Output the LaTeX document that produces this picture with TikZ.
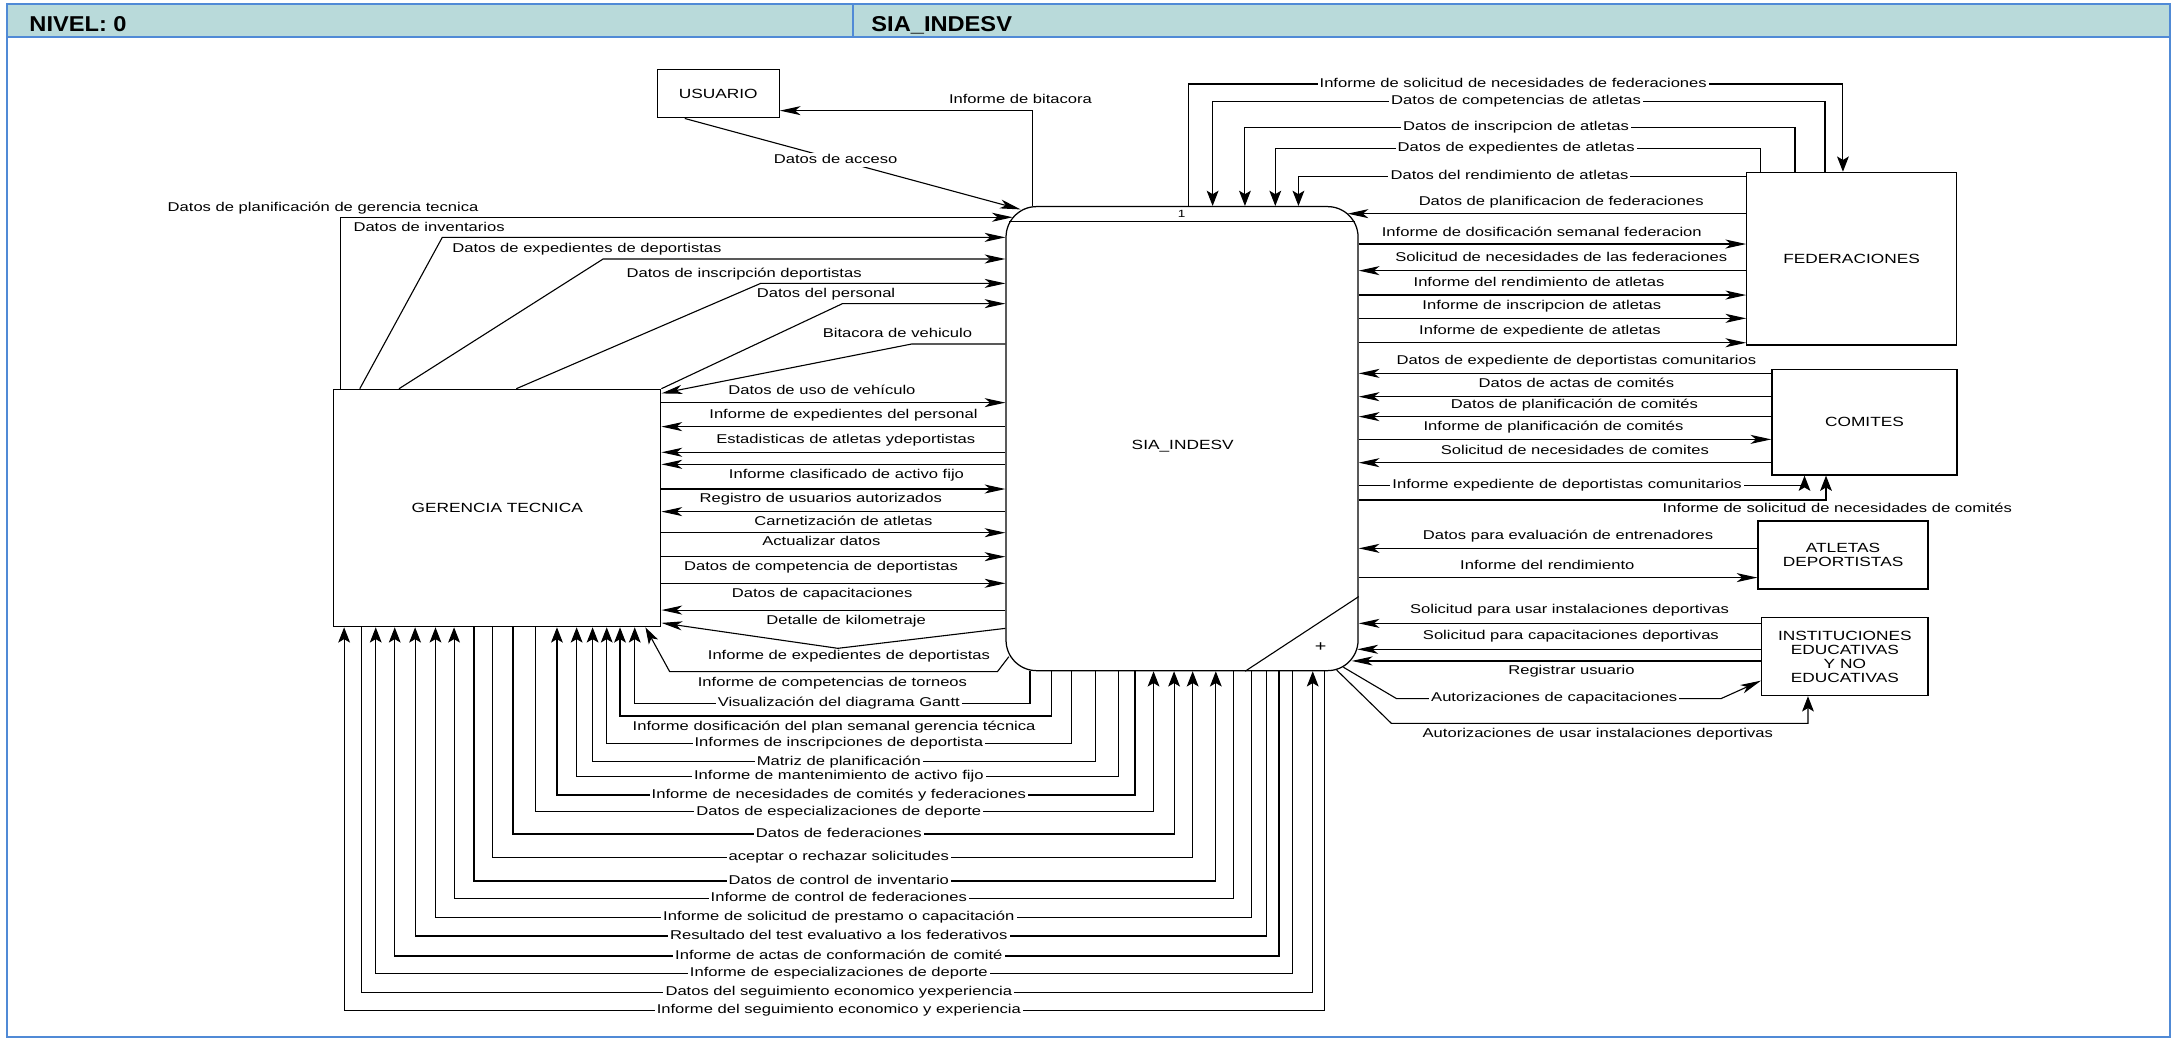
\documentclass[tikz,border=0pt]{standalone}
\usepackage{fontspec}
\setmainfont{Liberation Sans}[FakeStretch=1.3]
\newfontfamily\hdrfont{Liberation Sans}[FakeStretch=1.1]
\usetikzlibrary{arrows.meta,calc}
\definecolor{hdrfill}{RGB}{185,218,218}
\definecolor{hdrblue}{RGB}{80,138,214}
\tikzset{
  ent/.style={draw,line width=0.9pt,inner sep=0pt,align=center,font=\fontsize{9.6}{10.1}\selectfont},
  lbl/.style={inner sep=0pt,text height=6.6pt,text depth=1.9pt,font=\fontsize{9.2}{10.1}\selectfont},
  inl/.style={lbl,fill=white,inner xsep=1.5pt,inner ysep=0.5pt},
  ln/.style={line width=0.8pt},
  fwd/.style={ln,-{Stealth[length=15pt,width=6.5pt,inset=4pt]}},
  bwd/.style={ln,{Stealth[length=15pt,width=6.5pt,inset=4pt]}-},
  vfwd/.style={ln,-{Stealth[length=11pt,width=8.5pt,inset=2.5pt]}},
  vbwd/.style={ln,{Stealth[length=11pt,width=8.5pt,inset=2.5pt]}-},
  dfwd/.style={ln,-{Stealth[length=12pt,width=7.5pt,inset=3pt]}}
}
\begin{document}
\begin{tikzpicture}[x=1pt,y=-1pt]
\useasboundingbox (0,0) rectangle (1568,750);
\fill[hdrfill] (5,3) rectangle (1565,26.5);
\draw[hdrblue,line width=1.2pt] (5,3) rectangle (1565,748);
\draw[hdrblue,line width=1.2pt] (5,26.5) -- (1565,26.5) (615,3) -- (615,26.5);
\node[anchor=base west,font=\hdrfont\bfseries\fontsize{15.5}{16}\selectfont] (nivel) at (17.7,22.8) {NIVEL: 0};
\node[anchor=base west,font=\hdrfont\bfseries\fontsize{15.5}{16}\selectfont] (titulo) at (625,22.8) {SIA\_INDESV};

\node[ent,minimum width=88pt,minimum height=35pt] (usr) at (518,67.5) {USUARIO};
\node[ent,minimum width=235.9pt,minimum height=171.2pt] (ger) at (358.65,366.4) {GERENCIA TECNICA};
\node[ent,minimum width=151.1pt,minimum height=124.5pt] (fed) at (1335.45,186.55) {FEDERACIONES};
\node[ent,minimum width=133.5pt,minimum height=76.2pt] (com) at (1344.75,304.5) {COMITES};
\node[ent,minimum width=122.6pt,minimum height=49pt] (atl) at (1329.3,400.3) {ATLETAS\\DEPORTISTAS};
\node[ent,minimum width=120pt,minimum height=56.5pt] (ins) at (1330.6,473.45) {INSTITUCIONES\\EDUCATIVAS\\Y NO\\EDUCATIVAS};
\node[ent,rounded corners=22pt,minimum width=253.9pt,minimum height=334.7pt] (proc) at (852.55,316.35) {};
\node[font=\fontsize{9.6}{10.1}\selectfont,inner sep=0pt] (proclbl) at (853,322) {SIA\_INDESV};
\draw[ln] ($(proc.north west)+(2.8,11.3)$) -- ($(proc.north east)+(-2.8,11.3)$);
\node[font=\fontsize{7.5}{8}\selectfont,inner sep=0pt] (pnum) at (852.3,154.6) {1};
\draw[ln] (898,0 |- proc.south) -- (proc.east |- 0,430.3);
\node[font=\fontsize{11}{12}\selectfont,inner sep=0pt] (plus) at (952.5,466.9) {+};

\draw[fwd] (745,0 |- proc.north) -- (745,79.8) -- (usr.east |- 0,79.8);
\node[lbl] (l1) at (736,72.5) {Informe de bitacora};
\draw[fwd] (493.9,0 |- usr.south) -- ($(proc.north west)+(11,2.5)$);
\node[inl] (l2) at (602.7,115.4) {Datos de acceso};

\draw[fwd] (245.7,0 |- ger.north) |- ($(proc.west |- 0,156.7)+(5.3,0)$);
\node[lbl] (l3) at (233,150) {Datos de planificación de gerencia tecnica};
\draw[fwd] (259.5,0 |- ger.north) -- (319,171.2) -- (proc.west |- 0,171.2);
\node[lbl] (l4) at (309.5,164.7) {Datos de inventarios};
\draw[fwd] (287.8,0 |- ger.north) -- (435,186.8) -- (proc.west |- 0,186.8);
\node[lbl] (l5) at (423.3,179.8) {Datos de expedientes de deportistas};
\draw[fwd] (372.4,0 |- ger.north) -- (548.6,204.4) -- (proc.west |- 0,204.4);
\node[lbl] (l6) at (536.7,197.9) {Datos de inscripción deportistas};
\draw[fwd] (ger.north east) -- (607.6,219) -- (proc.west |- 0,219);
\node[lbl] (l7) at (595.8,212.3) {Datos del personal};
\draw[fwd] (proc.west |- 0,248.1) -- (657.6,248.1) -- ([yshift=-3.4pt]ger.north east);
\node[lbl] (l8) at (647.3,241.1) {Bitacora de vehiculo};

\foreach \yy/\ar/\cx/\ty/\txt [count=\i] in {
  290.4/fwd/592.8/282/Datos de uso de vehículo,
  307.7/bwd/608.4/299.3/Informe de expedientes del personal,
  326.2/bwd/610/317.4/Estadisticas de atletas ydeportistas,
  352.7/fwd/610.5/342.8/Informe clasificado de activo fijo,
  369/bwd/592/359.9/Registro de usuarios autorizados,
  384.2/fwd/608.3/376.5/Carnetización de atletas,
  401.5/fwd/592.4/391.4/Actualizar datos,
  420.7/fwd/592.2/408.9/Datos de competencia de deportistas,
  440/bwd/593/428.4/Datos de capacitaciones}
{
  \draw[\ar] (ger.east |- 0,\yy) -- (proc.west |- 0,\yy);
  \node[lbl] (g\i) at (\cx,\ty) {\txt};
}
\draw[bwd] (ger.east |- 0,334.9) -- (proc.west |- 0,334.9);
\draw[fwd] (proc.west |- 0,453.2) -- (604.3,467.6) -- ([yshift=3.2pt]ger.south east);
\node[lbl] (l9) at (610.2,447.9) {Detalle de kilometraje};
\draw[dfwd] ($(proc.west |- 0,473.6)+(2.5,0)$) -- (719.4,484.4) -- (483,484.4) -- (465.5,0 |- ger.south);
\node[lbl] (l10) at (612.3,473.6) {Informe de expedientes de deportistas};
\node[lbl] (l11) at (600.4,492.9) {Informe de competencias de torneos};

\foreach \xl/\xr/\yy/\ar/\txt [count=\i] in {
  457.8/742.9/507.3/vbwd/Visualización del diagrama Gantt,
  437.6/772.5/536.1/vbwd/Informes de inscripciones de deportista,
  427.4/790.3/549.4/vbwd/Matriz de planificación,
  415.9/806.6/560.2/vbwd/Informe de mantenimiento de activo fijo,
  401.7/818.6/573.4/vbwd/Informe de necesidades de comités y federaciones,
  386.5/832/585.6/vfwd/Datos de especializaciones de deporte,
  370/846.8/601.5/vfwd/Datos de federaciones,
  355.4/860.2/618.6/vfwd/aceptar o rechazar solicitudes,
  341.9/876.9/635.4/vfwd/Datos de control de inventario,
  327.5/889.4/647.9/vbwd/Informe de control de federaciones,
  314.1/902.5/661.6/vbwd/Informe de solicitud de prestamo o capacitación,
  299.4/913.7/675.1/vbwd/Resultado del test evaluativo a los federativos,
  284.7/922.5/689.5/vbwd/Informe de actas de conformación de comité,
  271/931.9/702/vbwd/Informe de especializaciones de deporte,
  260.8/946.8/715.7/vfwd/Datos del seguimiento economico yexperiencia,
  248.2/955.2/728.9/vbwd/Informe del seguimiento economico y experiencia}
{
  \draw[\ar] (\xl,0 |- ger.south) -- (\xl,\yy) -- (\xr,\yy) -- (\xr,0 |- proc.south);
  \node[inl] (b\i) at (605,\yy) {\txt};
}
\draw[vbwd] (447.2,0 |- ger.south) -- (447.2,516.4) -- (758.4,516.4) -- (758.4,0 |- proc.south);
\node[lbl] (l12) at (601.6,524.6) {Informe dosificación del plan semanal gerencia técnica};

\draw[vfwd] (857.5,0 |- proc.north) |- (1329.2,60.6) -- (1329.2,0 |- fed.north);
\node[inl] (r1) at (1091.4,60.6) {Informe de solicitud de necesidades de federaciones};
\foreach \xf/\xp/\yy/\txt [count=\i] in {
  1316.3/874.6/73.3/Datos de competencias de atletas,
  1294.6/897.9/91.8/Datos de inscripcion de atletas,
  1269.8/919.8/107/Datos de expedientes de atletas}
{
  \draw[vfwd] (\xf,0 |- fed.north) |- (\xp,\yy) -- (\xp,0 |- proc.north);
  \node[inl] (t\i) at (1093.5,\yy) {\txt};
}
\draw[vfwd] (fed.west |- 0,127.4) -| (936.5,0 |- proc.north);
\node[inl] (r2) at (1088.7,127.4) {Datos del rendimiento de atletas};

\foreach \nd/\yy/\ar/\dx/\cx/\ty/\txt [count=\i] in {
  fed/154.1/bwd/-8/1126/146.2/Datos de planificacion de federaciones,
  fed/176/fwd/0/1112/168.3/Informe de dosificación semanal federacion,
  fed/195.2/bwd/0/1126/186.3/Solicitud de necesidades de las federaciones,
  fed/212.8/fwd/0/1110/204.4/Informe del rendimiento de atletas,
  fed/229.6/fwd/0/1112/221.2/Informe de inscripcion de atletas,
  fed/247.2/fwd/0/1110.7/239.2/Informe de expediente de atletas,
  com/269.3/bwd/0/1137/260.8/Datos de expediente de deportistas comunitarios,
  com/286.1/bwd/0/1137/277/Datos de actas de comités,
  com/300.5/bwd/0/1135.6/292.1/Datos de planificación de comités,
  com/316.9/fwd/0/1120.5/308.2/Informe de planificación de comités,
  com/333.7/bwd/0/1135.9/325.3/Solicitud de necesidades de comites,
  atl/395.5/bwd/0/1131/386.6/Datos para evaluación de entrenadores,
  atl/416.6/fwd/0/1116/408.2/Informe del rendimiento,
  ins/449.6/bwd/0/1132/440.4/Solicitud para usar instalaciones deportivas,
  ins/468.3/bwd/-1/1133/459.2/Solicitud para capacitaciones deportivas,
  ins/476.7/bwd/-5/1133.4/484.4/Registrar usuario}
{
  \draw[\ar] ($(proc.east |- 0,\yy)+(\dx,0)$) -- (\nd.west |- 0,\yy);
  \node[lbl] (c\i) at (\cx,\ty) {\txt};
}
\draw[vfwd] (proc.east |- 0,350.3) -| (1301.5,0 |- com.south);
\node[inl] (k1) at (1130.3,350.3) {Informe expediente de deportistas comunitarios};
\draw[vfwd] (proc.east |- 0,360.6) -| (1317,0 |- com.south);
\node[lbl] (k2) at (1325.2,367.3) {Informe de solicitud de necesidades de comités};

\draw[fwd] ($(proc.south east)+(-11,-2.9)$) -- (1007.3,503.9) -- (1241.2,503.9) -- (ins.west |- 0,490.9);
\node[inl] (i1) at (1121,503.9) {Autorizaciones de capacitaciones};
\draw[vfwd] ($(proc.south east)+(-15.9,-0.9)$) -- (1003.5,521.7) -| (1304,0 |- ins.south);
\node[lbl] (i2) at (1152.4,529.6) {Autorizaciones de usar instalaciones deportivas};
\end{tikzpicture}
\end{document}
